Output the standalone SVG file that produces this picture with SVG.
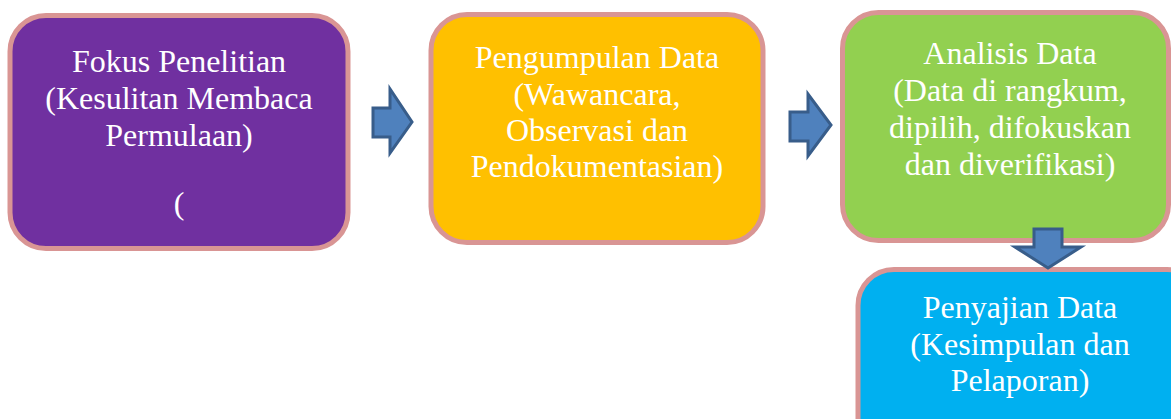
<svg xmlns="http://www.w3.org/2000/svg" width="1171" height="419" viewBox="0 0 1171 419">
<style>
.box{stroke:#D99594;stroke-width:5}
.arr{fill:#4F81BD;stroke:#385D8A;stroke-width:3;stroke-linejoin:miter}
</style>
<rect width="1171" height="419" fill="#FFFFFF"/>
<g font-family="Liberation Serif, Times New Roman, serif" font-size="32" fill="#FFFFFF" text-anchor="middle">
<g id="node-fokus">
<rect class="box" x="10" y="15.5" width="338" height="233" rx="36" fill="#7030A0"/>
<text x="179" y="72">Fokus Penelitian</text>
<text x="179" y="109">(Kesulitan Membaca</text>
<text x="179" y="146">Permulaan)</text>
<text x="179" y="214">(</text>
</g>
<g id="node-pengumpulan">
<rect class="box" x="431" y="14.5" width="332" height="228" rx="36" fill="#FFC000"/>
<text x="597" y="68">Pengumpulan Data</text>
<text x="597" y="105">(Wawancara,</text>
<text x="597" y="141">Observasi dan</text>
<text x="597" y="177">Pendokumentasian)</text>
</g>
<g id="node-analisis">
<rect class="box" x="842.5" y="12.5" width="326" height="228" rx="36" fill="#92D050"/>
<text x="1010" y="64">Analisis Data</text>
<text x="1010" y="101">(Data di rangkum,</text>
<text x="1010" y="138">dipilih, difokuskan</text>
<text x="1010" y="175">dan diverifikasi)</text>
</g>
<g id="node-penyajian">
<rect class="box" x="858" y="269.5" width="345" height="200" rx="36" fill="#00B0F0"/>
<text x="1020" y="318">Penyajian Data</text>
<text x="1020" y="355">(Kesimpulan dan</text>
<text x="1020" y="391">Pelaporan)</text>
</g>
</g>
<g id="connectors">
<polygon class="arr" points="373,108 390,108 390,89 412,122 390,153 390,137 373,137"/>
<polygon class="arr" points="790,112 808,112 808,94 831,125 808,156 808,141 790,141"/>
<polygon class="arr" points="1034,229 1062,229 1062,247 1081,247 1048,268 1015,247 1034,247"/>
</g>
</svg>
